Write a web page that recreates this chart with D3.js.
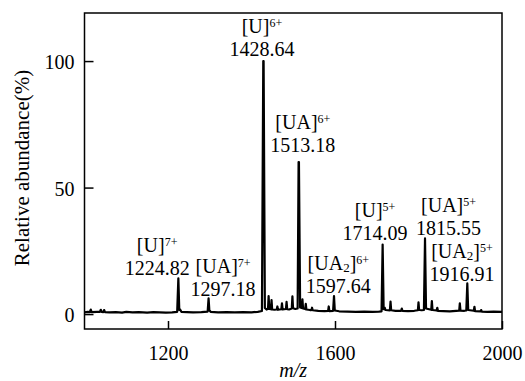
<!DOCTYPE html>
<html>
<head>
<meta charset="utf-8">
<script src="https://d3js.org/d3.v7.min.js"></script>
<style>
  body { margin: 0; background: white; }
</style>
</head>
<body>
<svg id="chart" width="525" height="381" font-family="Liberation Serif"></svg>
<script>
// spectrum: [m/z, relative abundance %]
const spectrum = [
  [1000,0.7],[1008,0.9],[1013,0.8],[1015,1.8],[1017,0.8],[1030,0.9],[1037,0.9],[1039,1.7],[1041,0.9],
  [1045,0.8],[1047,1.6],[1049,0.8],[1060,0.7],[1075,0.8],[1090,0.6],[1100,0.9],[1115,0.7],[1130,0.8],
  [1150,0.6],[1165,0.8],[1180,0.7],[1195,0.6],[1210,0.7],[1222,0.9],[1224.8,14.1],[1227,1.6],
  [1229,1.8],[1232,0.9],[1245,0.8],[1260,0.7],[1280,0.8],[1295,1.0],[1297.2,6.2],[1299,1.5],[1302,0.9],
  [1320,0.7],[1340,0.8],[1360,0.7],[1380,0.8],[1400,0.7],[1415,0.9],[1425,1.2],[1428.2,100],[1429,100],
  [1432,2.4],[1436,1.8],[1439.5,2.0],[1441,7.1],[1442.5,2.0],[1446.5,1.9],[1448,5.5],[1449.5,1.8],
  [1455,1.7],[1460.5,1.8],[1462,3.0],[1463.5,1.7],[1471.5,1.9],[1473,4.2],[1474.5,1.8],[1482.5,2.0],
  [1484,4.8],[1485.5,1.9],[1490,1.8],[1496.5,2.2],[1498,7.0],[1499.5,2.3],[1505,2.0],[1510.5,2.2],
  [1512.8,60.1],[1513.6,60.1],[1516.5,2.6],[1520.5,2.4],[1522,5.8],[1523.5,2.2],[1528.5,2.0],[1530,4.0],
  [1531.5,1.8],[1540,1.6],[1543.5,1.6],[1545,2.5],[1546.5,1.5],[1560,1.3],[1575,1.2],[1583.5,1.3],
  [1585,3.0],[1586.5,1.2],[1595.5,1.3],[1597.6,7.1],[1599.5,1.4],[1610,1.1],[1630,1.0],[1650,0.9],
  [1670,1.0],[1690,0.9],[1705,1.0],[1711.5,1.1],[1714.1,27.5],[1716.5,1.9],[1719,2.5],[1721,1.6],
  [1731.5,1.5],[1733,4.9],[1734.5,1.5],[1745,1.3],[1758.5,1.3],[1760,2.2],[1761.5,1.3],[1775,1.2],
  [1790,1.3],[1798.5,1.5],[1800,4.6],[1801.5,1.6],[1808,1.5],[1813,1.6],[1815.6,29.9],[1818,2.2],
  [1830.5,1.7],[1832,5.1],[1833.5,1.6],[1843.5,1.4],[1845,2.5],[1846.5,1.3],[1860,1.2],[1875,1.1],
  [1890,1.3],[1897.5,1.4],[1899,4.2],[1900.5,1.4],[1910,1.3],[1914.5,1.4],[1916.9,12.1],[1919,1.6],
  [1932.5,1.3],[1934,2.9],[1935.5,1.2],[1948.5,1.1],[1950,1.6],[1951.5,1.0],[1965,0.9],[1980,1.0],
  [2000,0.9]
];

// peak annotations
const ions     = ["U", "UA", "U", "UA", "UA", "U", "UA", "UA"];
const subs     = ["", "", "", "", "2", "", "", "2"];
const charges  = ["7+", "7+", "6+", "6+", "6+", "5+", "5+", "5+"];
const mzLabels = ["1224.82", "1297.18", "1428.64", "1513.18", "1597.64", "1714.09", "1815.55", "1916.91"];
// where each label sits, in data units (m/z centre, abundance of the number's baseline)
const labelMz  = [1174, 1332, 1425, 1523, 1608, 1696, 1872, 1904];
const labelAb  = [15.4, 7.1, 102.2, 64, 8.3, 29.2, 31.2, 13.0];

const xTicks = [1200, 1600, 2000];
const yTicks = [0, 50, 100];

const FONT = "Liberation Serif";
const svg = d3.select("#chart");
const plotL = 84.5, plotR = 502, plotT = 13, plotB = 329;

const x = d3.scaleLinear().domain([1000, 2000]).range([plotL, plotR]);
const y = d3.scaleLinear().domain([-5.9, 119]).range([plotB, plotT]);

// spectrum line
svg.append("path")
   .datum(spectrum)
   .attr("fill", "none")
   .attr("stroke", "black")
   .attr("stroke-width", 2.2)
   .attr("stroke-linejoin", "round")
   .attr("d", d3.line().x(d => x(d[0])).y(d => y(d[1])));

// axes with inward ticks, no domain
const xAxis = svg.append("g")
   .attr("transform", `translate(0,${plotB})`)
   .call(d3.axisBottom(x).tickValues(xTicks).tickSize(-8).tickPadding(17).tickFormat(d3.format("d")));
const yAxis = svg.append("g")
   .attr("transform", `translate(${plotL},0)`)
   .call(d3.axisLeft(y).tickValues(yTicks).tickSize(-9).tickPadding(10));
[xAxis, yAxis].forEach(g => {
  g.attr("font-family", FONT).attr("font-size", 20);
  g.select(".domain").remove();
  g.selectAll(".tick line").attr("stroke", "black").attr("stroke-width", 1.5);
  g.selectAll(".tick text").attr("fill", "black");
});
yAxis.selectAll(".tick text").attr("dy", "0.38em");

// frame
svg.append("rect")
   .attr("x", plotL).attr("y", plotT)
   .attr("width", plotR - plotL).attr("height", plotB - plotT)
   .attr("fill", "none").attr("stroke", "black").attr("stroke-width", 1.5);

// axis titles
svg.append("text")
   .attr("x", (plotL + plotR) / 2).attr("y", 377)
   .attr("text-anchor", "middle")
   .attr("font-family", FONT).attr("font-size", 20).attr("font-style", "italic")
   .text("m/z");
svg.append("text")
   .attr("transform", "translate(28.5,168) rotate(-90)")
   .attr("text-anchor", "middle")
   .attr("font-family", FONT).attr("font-size", 21)
   .text("Relative abundance(%)");

// peak labels
const labels = svg.selectAll("g.peak").data(mzLabels)
  .join("g").attr("class", "peak")
  .attr("font-family", FONT);

labels.append("text")
  .attr("x", (d, i) => x(labelMz[i]))
  .attr("y", (d, i) => y(labelAb[i]))
  .attr("text-anchor", "middle")
  .attr("font-size", 20)
  .text(d => d);

labels.each(function(d, i) {
  const t = d3.select(this).append("text")
    .attr("x", x(labelMz[i]))
    .attr("y", y(labelAb[i]) - 23)
    .attr("text-anchor", "middle")
    .attr("font-size", 20);
  t.append("tspan").text("[" + ions[i]);
  if (subs[i]) {
    t.append("tspan").attr("dy", 2).attr("font-size", 13).text(subs[i]);
    t.append("tspan").attr("dy", -2).text("]");
  } else {
    t.append("tspan").text("]");
  }
  t.append("tspan").attr("dy", -6).attr("font-size", 12).text(charges[i]);
});
</script>
</body>
</html>
